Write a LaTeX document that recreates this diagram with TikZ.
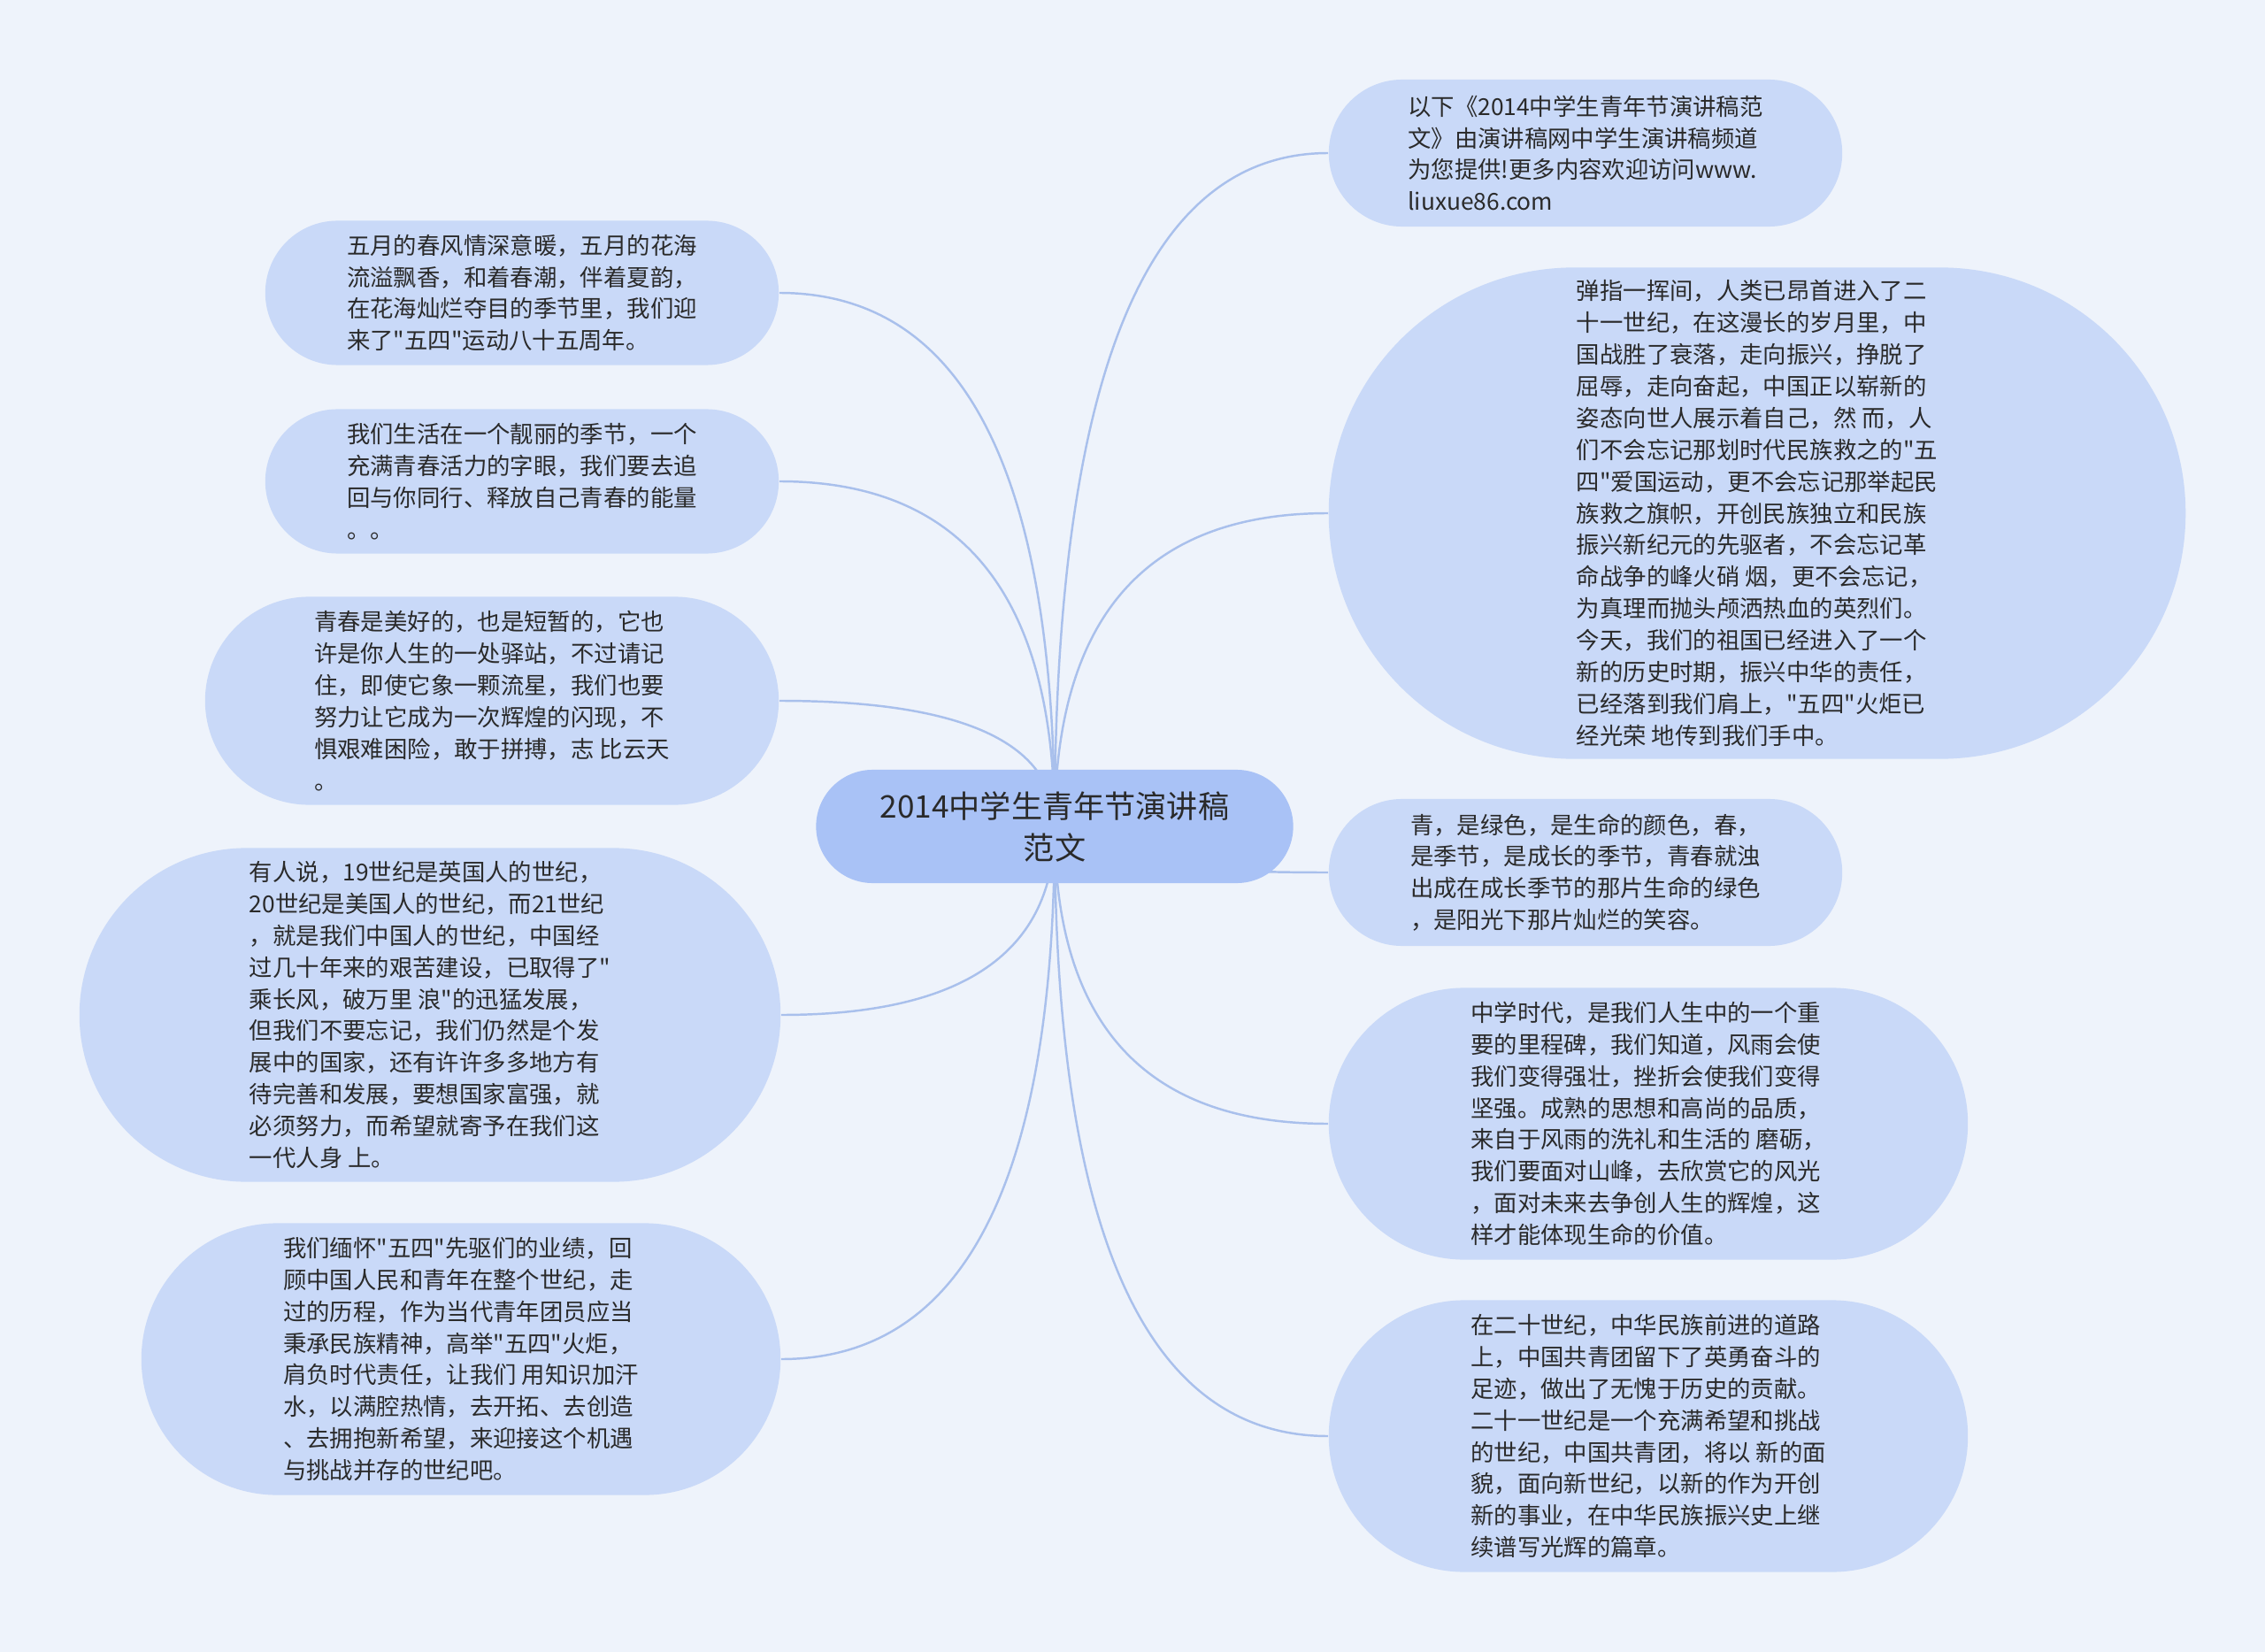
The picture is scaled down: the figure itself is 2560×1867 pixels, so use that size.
\documentclass[tikz,border=0pt]{standalone}
\usepackage{fontspec}
\setmainfont{Noto Sans CJK SC}[Ligatures=TeXOff]
\usetikzlibrary{calc,backgrounds}

\definecolor{paper}{HTML}{EEF3FB}
\definecolor{leafblue}{HTML}{C9D9F8}
\definecolor{hubblue}{HTML}{A9C2F6}
\definecolor{wire}{HTML}{A9C0EC}
\definecolor{ink}{HTML}{2A2A2A}

\tikzset{
  topic/.style={fill=hubblue, text=ink, inner sep=0pt, align=center,
    font=\fontsize{10pt}{13.4pt}\selectfont},
  leaf/.style={fill=leafblue, text=ink, inner sep=0pt, align=left,
    font=\fontsize{7.5pt}{10.2pt}\selectfont},
  branch/.style={wire, line width=0.7pt},
  twig/.style={to path={.. controls ($(\tikztostart)!0.667!(\tikztostart |- \tikztotarget)$)
    and ($(\tikztotarget)!0.667!(\tikztostart |- \tikztotarget)$) .. (\tikztotarget)}}
}

\begin{document}
\begin{tikzpicture}[x=0.01cm, y=-0.01cm]
    % centre
    \node[topic, minimum width=5.39cm, minimum height=1.28cm, rounded corners=0.64cm] (ctr) at (1192, 934)
        {2014中学生青年节演讲稿\\范文};

    % left side
    \node[leaf, minimum width=5.80cm, minimum height=1.63cm, rounded corners=0.815cm] (l1) at (590, 331)
        {五月的春风情深意暖，五月的花海\\流溢飘香，和着春潮，伴着夏韵，\\在花海灿烂夺目的季节里，我们迎\\来了"五四"运动八十五周年。};
    \node[leaf, minimum width=5.80cm, minimum height=1.63cm, rounded corners=0.815cm] (l2) at (590, 544)
        {我们生活在一个靓丽的季节，一个\\充满青春活力的字眼，我们要去追\\回与你同行、释放自己青春的能量\\。。};
    \node[leaf, minimum width=6.48cm, minimum height=2.35cm, rounded corners=1.175cm] (l3) at (556, 792)
        {青春是美好的，也是短暂的，它也\\许是你人生的一处驿站，不过请记\\住，即使它象一颗流星，我们也要\\努力让它成为一次辉煌的闪现，不\\惧艰难困险，敢于拼搏，志 比云天\\。};
    \node[leaf, minimum width=7.92cm, minimum height=3.77cm, rounded corners=1.885cm] (l4) at (486, 1147)
        {有人说，19世纪是英国人的世纪，\\20世纪是美国人的世纪，而21世纪\\，就是我们中国人的世纪，中国经\\过几十年来的艰苦建设，已取得了"\\乘长风，破万里 浪"的迅猛发展，\\但我们不要忘记，我们仍然是个发\\展中的国家，还有许许多多地方有\\待完善和发展，要想国家富强，就\\必须努力，而希望就寄予在我们这\\一代人身 上。};
    \node[leaf, minimum width=7.22cm, minimum height=3.07cm, rounded corners=1.535cm] (l5) at (521, 1536)
        {我们缅怀"五四"先驱们的业绩，回\\顾中国人民和青年在整个世纪，走\\过的历程，作为当代青年团员应当\\秉承民族精神，高举"五四"火炬，\\肩负时代责任，让我们 用知识加汗\\水，以满腔热情，去开拓、去创造\\、去拥抱新希望，来迎接这个机遇\\与挑战并存的世纪吧。};

    % right side
    \node[leaf, minimum width=5.80cm, minimum height=1.66cm, rounded corners=0.83cm] (r1) at (1792, 173)
        {以下《2014中学生青年节演讲稿范\\文》由演讲稿网中学生演讲稿频道\\为您提供!更多内容欢迎访问www.\\liuxue86.com};
    \node[leaf, minimum width=9.68cm, minimum height=5.55cm, rounded corners=2.775cm] (r2) at (1986, 580)
        {弹指一挥间，人类已昂首进入了二\\十一世纪，在这漫长的岁月里，中\\国战胜了衰落，走向振兴，挣脱了\\屈辱，走向奋起，中国正以崭新的\\姿态向世人展示着自己，然 而，人\\们不会忘记那划时代民族救之的"五\\四"爱国运动，更不会忘记那举起民\\族救之旗帜，开创民族独立和民族\\振兴新纪元的先驱者，不会忘记革\\命战争的峰火硝 烟，更不会忘记，\\为真理而抛头颅洒热血的英烈们。\\今天，我们的祖国已经进入了一个\\新的历史时期，振兴中华的责任，\\已经落到我们肩上，"五四"火炬已\\经光荣 地传到我们手中。};
    \node[leaf, minimum width=5.80cm, minimum height=1.66cm, rounded corners=0.83cm] (r3) at (1792, 986)
        {青，是绿色，是生命的颜色，春，\\是季节，是成长的季节，青春就浊\\出成在成长季节的那片生命的绿色\\，是阳光下那片灿烂的笑容。};
    \node[leaf, minimum width=7.22cm, minimum height=3.07cm, rounded corners=1.535cm] (r4) at (1863, 1270)
        {中学时代，是我们人生中的一个重\\要的里程碑，我们知道，风雨会使\\我们变得强壮，挫折会使我们变得\\坚强。成熟的思想和高尚的品质，\\来自于风雨的洗礼和生活的 磨砺，\\我们要面对山峰，去欣赏它的风光\\，面对未来去争创人生的辉煌，这\\样才能体现生命的价值。};
    \node[leaf, minimum width=7.22cm, minimum height=3.07cm, rounded corners=1.535cm] (r5) at (1863, 1623)
        {在二十世纪，中华民族前进的道路\\上，中国共青团留下了英勇奋斗的\\足迹，做出了无愧于历史的贡献。\\二十一世纪是一个充满希望和挑战\\的世纪，中国共青团，将以 新的面\\貌，面向新世纪，以新的作为开创\\新的事业，在中华民族振兴史上继\\续谱写光辉的篇章。};

    \begin{scope}[on background layer]
        \fill[paper] (0, 0) rectangle (2560, 1867);

        \draw[branch] (ctr.center) to[twig] (l1.east);
        \draw[branch] (ctr.center) to[twig] (l2.east);
        \draw[branch] (ctr.center) to[twig] (l3.east);
        \draw[branch] (ctr.center) to[twig] (l4.east);
        \draw[branch] (ctr.center) to[twig] (l5.east);

        \draw[branch] (ctr.center) to[twig] (r1.west);
        \draw[branch] (ctr.center) to[twig] (r2.west);
        \draw[branch] (ctr.center) to[twig] (r3.west);
        \draw[branch] (ctr.center) to[twig] (r4.west);
        \draw[branch] (ctr.center) to[twig] (r5.west);
    \end{scope}
\end{tikzpicture}
\end{document}
